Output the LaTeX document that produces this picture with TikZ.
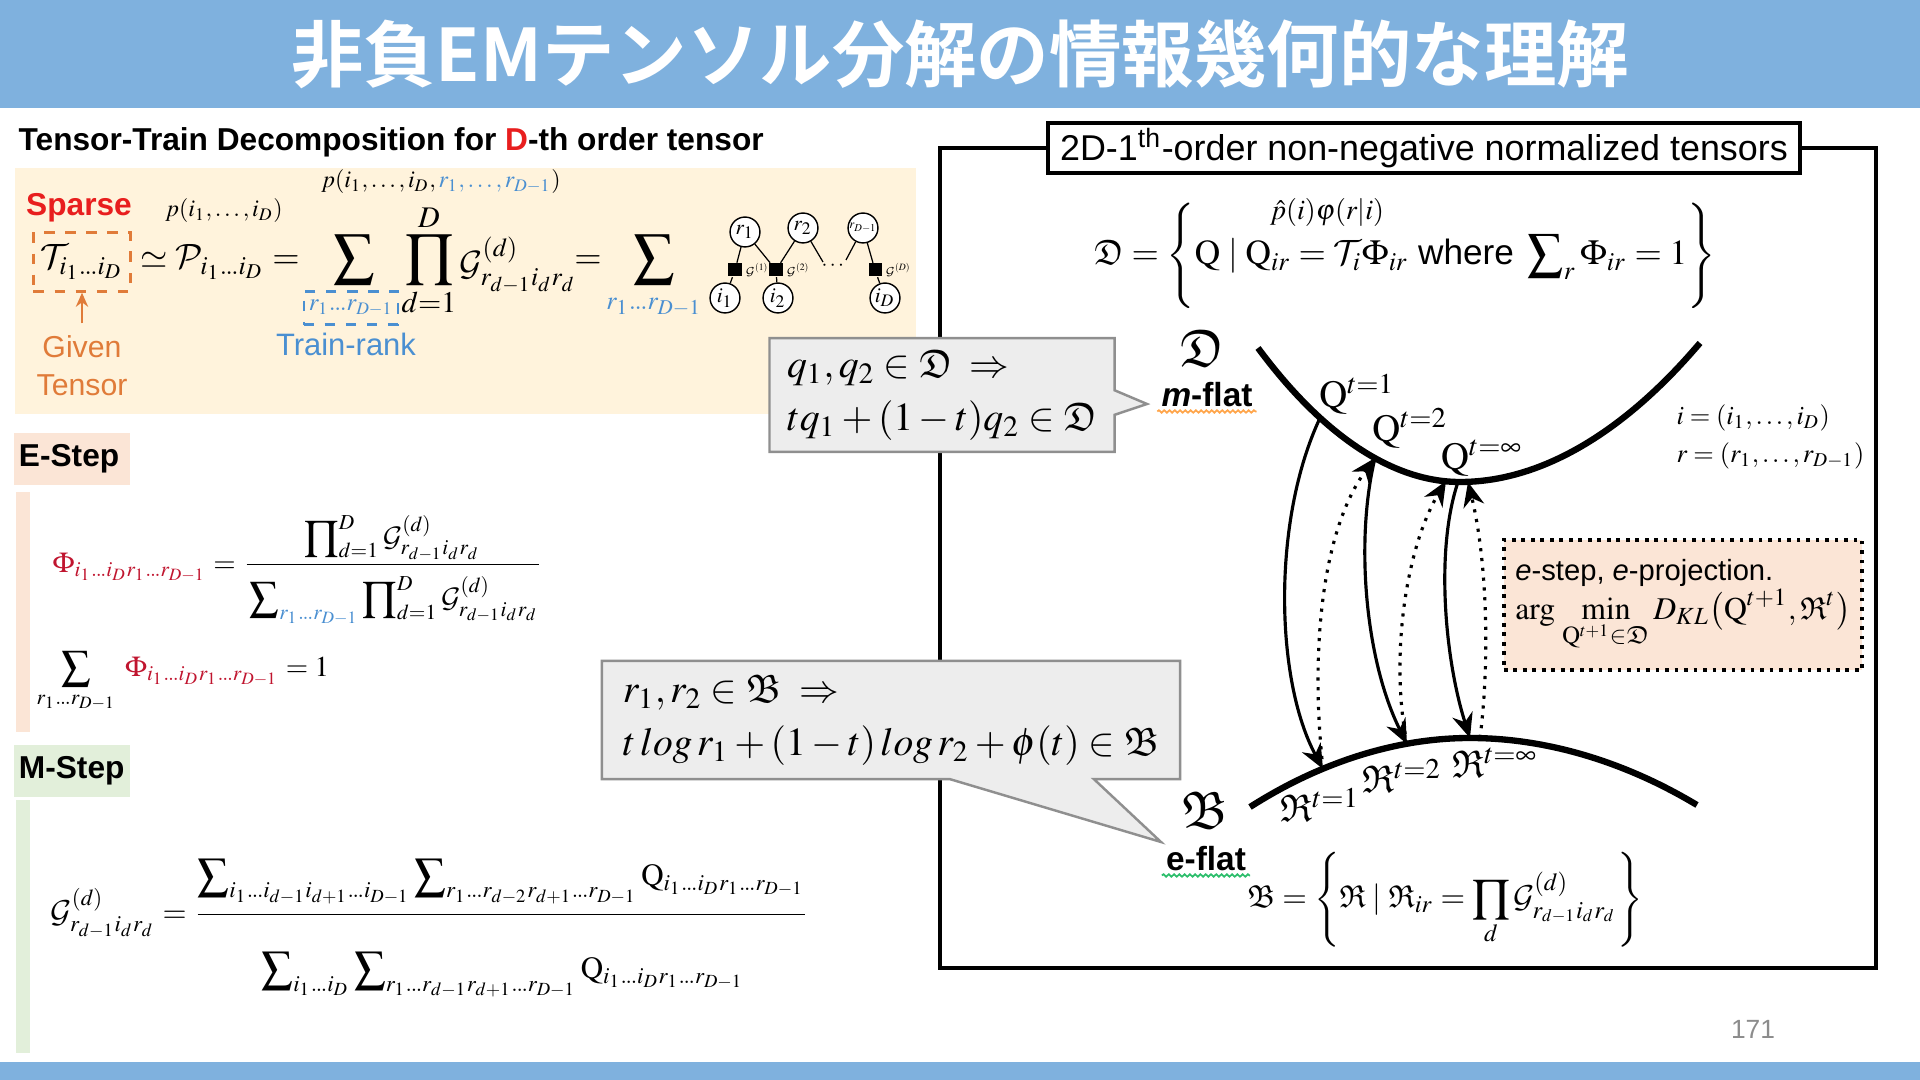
\documentclass[tikz,border=0pt]{standalone}
\usepackage{amsmath,amssymb}
\usepackage{mathptmx}
\DeclareMathAlphabet{\mathcal}{OMS}{cmsy}{m}{n}
\usepackage[no-math]{fontspec}
\setmainfont{Liberation Sans}
\newfontfamily\cjkfont{Noto Sans CJK JP}[BoldFont={Noto Sans CJK JP Bold}]
\usetikzlibrary{arrows.meta, positioning, shapes.callouts, decorations.pathmorphing}

\definecolor{barBlue}{HTML}{7FB1DE}
\definecolor{ttBg}{HTML}{FFF3DC}
\definecolor{eBg}{HTML}{FBE5D6}
\definecolor{mBg}{HTML}{E2EFDA}
\definecolor{givenOrange}{HTML}{E07B39}
\definecolor{rankBlue}{HTML}{4A8FD1}
\definecolor{sparseRed}{HTML}{E81E1E}
\definecolor{phiRed}{HTML}{C0152F}
\definecolor{calloutFill}{HTML}{EDEDED}
\definecolor{calloutEdge}{HTML}{8F8F8F}
\definecolor{wavyGreen}{HTML}{2DBE6C}

\newcommand{\fsz}[2]{\fontsize{#1}{#2}\selectfont}
\newcommand{\tdots}{{.}\mkern-1mu{.}\mkern-1mu{.}}
\newcommand{\idx}{i_1\tdots i_D}
\newcommand{\rdx}{r_1\tdots r_{D-1}}
\newcommand{\Gd}{\mathcal{G}^{(d)}_{r_{d-1}i_dr_d}}
\newcommand{\Qm}{\mathrm{Q}}
\newcommand{\Rm}{\mathfrak{R}}
\newcommand{\bsum}{\displaystyle\sum\nolimits}
\newcommand{\bprod}{\displaystyle\prod\nolimits}

\tikzset{
    >={Stealth[length=7pt, width=6pt]},
    % Text
    heading/.style={font=\fsz{9pt}{11pt}\bfseries, anchor=west, inner sep=0pt},
    steplbl/.style={font=\fsz{9pt}{11pt}\bfseries, anchor=west, text width=30pt, inner xsep=1.5pt, minimum height=12.4pt},
    smallmath/.style={font=\fsz{6.8pt}{8pt}, inner sep=0pt},
    maineq/.style={font=\fsz{10pt}{12pt}, inner sep=0pt},
    bigop/.style={font=\fsz{11.5pt}{13pt}, inner sep=0pt},
    eqn/.style={font=\fsz{8.2pt}{10pt}, inner sep=0pt},
    flatlbl/.style={font=\fsz{9.5pt}{11pt}\bfseries, inner sep=1pt},
    curvelbl/.style={font=\fsz{11pt}{12pt}, inner sep=0pt},
    % Shapes
    callbox/.style={rectangle callout, fill=calloutFill, draw=calloutEdge, line width=0.7pt,
                    align=left, inner xsep=5pt, font=\fsz{11.3pt}{15pt}},
    ebox/.style={draw, fill=eBg, line width=1.1pt, dash pattern=on 1.1pt off 1.6pt,
                 minimum width=99.6pt, minimum height=37pt, align=left},
    ttvar/.style={circle, draw, fill=white, line width=0.4pt, minimum size=8.5pt, inner sep=0pt, font=\fsz{6pt}{6pt}},
    ttcore/.style={fill=black, minimum size=3.7pt, inner sep=0pt},
    ttlbl/.style={font=\fsz{6pt}{6pt}, inner sep=0.8pt},
    % Lines
    ttedge/.style={line width=0.35pt},
    manifold/.style={line width=1.8pt},
    mproj/.style={->, line width=0.9pt},
    eproj/.style={->, line width=0.9pt, dash pattern=on 0.9pt off 1.9pt},
    wavy/.style={decorate, decoration={snake, amplitude=0.35pt, segment length=1.5pt}, line width=0.5pt}
}

\begin{document}
\begin{tikzpicture}[x=0.01cm, y=-0.01cm]
\useasboundingbox (0,0) rectangle (1920,1080);

% title and footer bars
\fill[barBlue] (0,0) rectangle (1920,108);
\fill[barBlue] (0,1062) rectangle (1920,1080);
\node[font=\cjkfont\bfseries\fsz{20.6pt}{24pt}, text=white] (title) at (960,54) {非負EMテンソル分解の情報幾何的な理解};
\node[font=\fsz{7.5pt}{9pt}, text=black!45] (pageno) at (1753,1029) {171};

%% Left: tensor-train decomposition
\node[heading] (tthead) at (18,142) {Tensor-Train Decomposition for \textcolor{sparseRed}{D}-th order tensor};
\fill[ttBg] (15,168) rectangle (916,414);

\node[font=\fsz{9pt}{11pt}\bfseries, text=sparseRed] (sparse) at (79,208) {Sparse};
\node[smallmath] (pmarg) at (224,211) {$p(i_1,\ldots,i_D)$};
\node[smallmath] (pjoint) at (441,182) {$p(i_1,\ldots,i_D,\textcolor{rankBlue}{r_1,\ldots,r_{D-1}})$};

\node[maineq, draw=givenOrange, dashed, line width=0.7pt, minimum width=27.6pt, minimum height=16.8pt] (tens) at (82,262) {$\mathcal{T}_{\idx}$};
\node[maineq, anchor=west] (approx) at (140,262) {$\simeq\mathcal{P}_{\idx} =$};
\node[bigop] (sum1) at (354,260) {$\displaystyle\sum$};
\node[maineq, font=\fsz{9pt}{10pt}, draw=rankBlue, dashed, line width=0.6pt, inner xsep=1.5pt, minimum height=9.4pt, text=rankBlue] (sum1sub) at (351,308) {$\scriptstyle\rdx$};
\node[bigop] (prod1) at (429,260) {$\displaystyle\prod_{d=1}^{D}$};
\node[maineq, anchor=west] (gcore) at (459,265) {$\Gd$};
\node[maineq] (eq2) at (588,262) {$=$};
\node[bigop] (sum2) at (654,260) {$\displaystyle\sum$};
\node[maineq, text=rankBlue] (sum2sub) at (654,307) {$\scriptstyle\rdx$};

\node[font=\fsz{8.6pt}{10.8pt}, text=givenOrange, align=center] (given) at (82,366) {Given\\Tensor};
\draw[-{Stealth[length=4pt, width=3.5pt]}, givenOrange, line width=0.6pt] (given.north) -- (tens.south);
\node[font=\fsz{8.8pt}{10pt}, text=rankBlue] (trainrank) at (346,344) {Train-rank};

% tensor-train graph
\node[ttvar] (r1) at (745,232) {$r_1$};
\node[ttvar] (r2) at (803,228) {$r_2$};
\node[ttvar] (rD) at (863,228) {\scalebox{0.6}{$r_{D-1}$}};
\node[ttvar] (i1) at (725,298) {$i_1$};
\node[ttvar] (i2) at (778,298) {$i_2$};
\node[ttvar] (iD) at (885,298) {$i_D$};
\node[ttcore, label={[ttlbl]right:\scalebox{0.55}{$\mathcal{G}^{(1)}$}}] (g1) at (735,270) {};
\node[ttcore, label={[ttlbl]right:\scalebox{0.55}{$\mathcal{G}^{(2)}$}}] (g2) at (776,270) {};
\node[ttcore, label={[ttlbl]right:\scalebox{0.55}{$\mathcal{G}^{(D)}$}}] (gD) at (875,270) {};
\node[font=\fsz{6pt}{6pt}] (ttdots) at (834,266) {$\cdots$};
\coordinate (r2end) at (823,262);
\coordinate (rDend) at (846,260);
\draw[ttedge] (r1) -- (g1) (r1) -- (g2) (r2) -- (g2) (r2) -- (r2end)
              (rD) -- (rDend) (rD) -- (gD) (g1) -- (i1) (g2) -- (i2) (gD) -- (iD);

% E-step
\node[steplbl, fill=eBg] (estep) at (13,459) {E-Step};
\fill[eBg] (16,492) rectangle (30,732);
\node[eqn, anchor=west] (phidef) at (52,570) {$\textcolor{phiRed}{\Phi_{\idx\rdx}} = \dfrac{\bprod_{d=1}^{D}\Gd\rule[-3pt]{0pt}{0pt}}{\rule{0pt}{11pt}\bsum_{\textcolor{rankBlue}{\rdx}}\bprod_{d=1}^{D}\Gd}$};
\node[eqn, anchor=west] (phinorm) at (36,682) {$\displaystyle\sum_{\rdx}\;\textcolor{phiRed}{\Phi_{\idx\rdx}} = 1$};

% M-step
\node[steplbl, fill=mBg] (mstep) at (13,771) {M-Step};
\fill[mBg] (16,800) rectangle (30,1053);
\node[eqn, font=\fsz{8.8pt}{11pt}, anchor=west] (gupdate) at (50,928) {$\Gd = \dfrac{\bsum_{i_1\tdots i_{d-1}i_{d+1}\tdots i_{D-1}}\bsum_{r_1\tdots r_{d-2}r_{d+1}\tdots r_{D-1}}\Qm_{\idx\rdx}\rule[-7pt]{0pt}{0pt}}{\rule{0pt}{17pt}\bsum_{\idx}\bsum_{r_1\tdots r_{d-1}r_{d+1}\tdots r_{D-1}}\Qm_{\idx\rdx}}$};

%% Right: information geometry
\draw[line width=1.2pt] (940,148) rectangle (1876,968);
\node[draw, line width=1.2pt, fill=white, font=\fsz{10.2pt}{12pt}, minimum width=214pt, minimum height=14.2pt, inner sep=0pt] (dtitle) at (1424,148) {2D-1\textsuperscript{th}-order non-negative normalized tensors};

\node[font=\fsz{10pt}{12pt}, inner sep=0pt] (ddef) at (1405,256) {$\mathfrak{D} = \Bigg\{\Qm \mid \Qm_{ir} = \mathcal{T}_i\Phi_{ir}\text{ where }\displaystyle\sum\nolimits_r\Phi_{ir} = 1\Bigg\}$};
\node[font=\fsz{8pt}{9pt}, inner sep=0pt] (dhint) at (1327,212) {$\hat{p}(i)\varphi(r|i)$};

\node[font=\fsz{7.5pt}{9pt}, anchor=west, inner sep=0pt] (inote) at (1676,418) {$i = (i_1,\ldots,i_D)$};
\node[font=\fsz{7.5pt}{9pt}, anchor=west, inner sep=0pt] (rnote) at (1676,456) {$r = (r_1,\ldots,r_{D-1})$};

% manifolds
\draw[manifold] (1258,348) parabola bend (1460,482) (1700,343);
\draw[manifold] (1250,807) parabola bend (1470,738) (1697,805);
\coordinate (q1) at (1320,418);
\coordinate (q2) at (1375,458);
\coordinate (qinf) at (1458,482);
\coordinate (qinfl) at (1446,481);
\coordinate (qinfr) at (1468,482);
\coordinate (r1pt) at (1323,769);
\coordinate (r2pt) at (1407,744);
\coordinate (rinf) at (1470,738);
\coordinate (rinfr) at (1480,738);

\node[font=\fsz{15pt}{15pt}, inner sep=0pt] (dlbl) at (1202,348) {$\mathfrak{D}$};
\node[flatlbl] (mflat) at (1207,395) {\textit{m}-flat};
\draw[wavy, orange!70] (mflat.south west) -- (mflat.south east);
\node[font=\fsz{15pt}{15pt}, inner sep=0pt] (blbl) at (1205,810) {$\mathfrak{B}$};
\node[flatlbl] (eflat) at (1206,859) {e-flat};
\draw[wavy, wavyGreen] (eflat.south west) -- (eflat.south east);

\node[curvelbl] (lq1) at (1357,394) {$\Qm^{t=1}$};
\node[curvelbl] (lq2) at (1410,428) {$\Qm^{t=2}$};
\node[curvelbl] (lqinf) at (1482,458) {$\Qm^{t=\infty}$};
\node[curvelbl] (lr1) at (1320,805) {$\Rm^{t=1}$};
\node[curvelbl] (lr2) at (1402,776) {$\Rm^{t=2}$};
\node[curvelbl] (lrinf) at (1495,763) {$\Rm^{t=\infty}$};

% alternating projections
\draw[mproj] (q1) .. controls (1272,520) and (1275,680) .. (r1pt);
\draw[eproj] (r1pt) .. controls (1310,650) and (1322,530) .. (q2);
\draw[mproj] (q2) .. controls (1355,540) and (1365,660) .. (r2pt);
\draw[eproj] (r2pt) .. controls (1390,660) and (1405,550) .. (qinfl);
\draw[mproj] (qinf) .. controls (1435,550) and (1445,660) .. (rinf);
\draw[eproj] (rinfr) .. controls (1490,660) and (1487,560) .. (qinfr);

\node[ebox] (estepbox) at (1683,605) {{\fsz{8.3pt}{10pt}\textit{e}-step, \textit{e}-projection.}\\[-1pt]
  {\fsz{9pt}{11pt}$\displaystyle\arg\,\min_{\Qm^{t+1}\in\mathfrak{D}} D_{KL}\big(\Qm^{t+1},\Rm^{t}\big)$}};

\node[font=\fsz{9pt}{11pt}, inner sep=0pt] (bdef) at (1445,900) {$\mathfrak{B} = \Bigg\{\Rm \mid \Rm_{ir} = \displaystyle\prod_{d}\Gd\Bigg\}$};

% callouts
\node[callbox, minimum width=95.9pt, minimum height=31pt, callout absolute pointer={(1147,404)}, callout pointer width=7pt] (callD) at (942,395)
  {$q_1,q_2\in\mathfrak{D}\;\Rightarrow$\\$tq_1+(1-t)q_2\in\mathfrak{D}$};
\node[callbox, minimum width=164.4pt, minimum height=33.6pt, callout absolute pointer={(1161,842)}, callout pointer width=41pt] (callB) at (891,720)
  {$r_1,r_2\in\mathfrak{B}\;\Rightarrow$\\$t\,log\,r_1+(1-t)\,log\,r_2+\phi(t)\in\mathfrak{B}$};

\end{tikzpicture}
\end{document}
